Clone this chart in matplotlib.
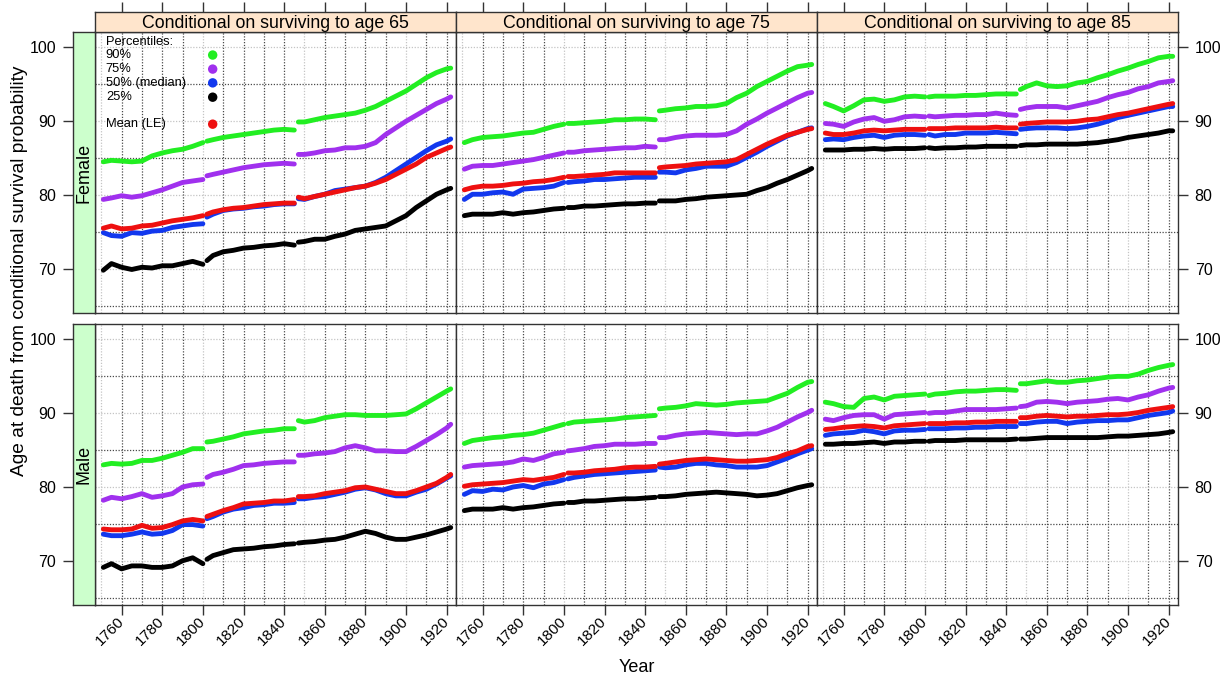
import matplotlib
matplotlib.use('Agg')
import matplotlib.pyplot as plt
import numpy as np

plt.rcParams['font.family'] = ['Liberation Sans', 'DejaVu Sans']

# ---------------- data ----------------
YEARS = [1751, 1755, 1760, 1765, 1770, 1775, 1780, 1785, 1790, 1795, 1800,
         1802, 1805, 1810, 1815, 1820, 1825, 1830, 1835, 1840, 1845,
         1847, 1850, 1855, 1860, 1865, 1870, 1875, 1880, 1885, 1890, 1895,
         1900, 1905, 1910, 1915, 1920, 1922]
BREAKS = [1801, 1846]

COND_AGES = [65, 75, 85]
SEXES = ['Female', 'Male']
LEGEND_LABELS = ['90%', '75%', '50% (median)', '25%']
MEAN_LABEL = 'Mean (LE)'
X_TICKS = [1760, 1780, 1800, 1820, 1840, 1860, 1880, 1900, 1920]
Y_TICKS = [70, 80, 90, 100]

# Female, conditional on surviving to 65
F65_P90 = [84.5, 84.7, 84.6, 84.5, 84.6, 85.3, 85.7, 86.0, 86.2, 86.6, 87.1,
           87.3, 87.5, 87.8, 88.0, 88.2, 88.4, 88.6, 88.8, 88.9, 88.8,
           89.9, 89.9, 90.2, 90.5, 90.7, 90.9, 91.1, 91.5, 92.0, 92.7, 93.4, 94.1, 95.0, 95.9, 96.6, 97.1, 97.2]
F65_P75 = [79.4, 79.6, 79.9, 79.7, 79.9, 80.3, 80.7, 81.2, 81.7, 81.9, 82.1,
           82.6, 82.8, 83.1, 83.4, 83.7, 83.9, 84.1, 84.2, 84.3, 84.2,
           85.5, 85.5, 85.7, 86.0, 86.1, 86.4, 86.4, 86.6, 87.1, 88.2, 89.1, 90.0, 90.8, 91.6, 92.4, 93.0, 93.3]
F65_P50 = [74.9, 74.5, 74.4, 74.9, 74.8, 75.1, 75.2, 75.6, 75.8, 76.0, 76.1,
           77.0, 77.4, 77.9, 78.1, 78.2, 78.4, 78.5, 78.7, 78.8, 78.8,
           79.5, 79.4, 79.8, 80.1, 80.6, 80.8, 81.0, 81.2, 81.7, 82.4, 83.3, 84.2, 85.1, 86.0, 86.8, 87.3, 87.6]
F65_MEAN = [75.5, 75.8, 75.4, 75.5, 75.8, 75.9, 76.2, 76.5, 76.7, 76.9, 77.2,
            77.4, 77.7, 78.0, 78.2, 78.3, 78.5, 78.7, 78.8, 78.9, 78.9,
            79.7, 79.5, 79.8, 80.1, 80.4, 80.7, 81.0, 81.2, 81.6, 82.1, 82.8, 83.5, 84.2, 85.1, 85.7, 86.3, 86.5]
F65_P25 = [69.8, 70.7, 70.2, 69.9, 70.2, 70.1, 70.4, 70.4, 70.7, 71.0, 70.6,
           71.1, 71.8, 72.3, 72.5, 72.8, 72.9, 73.1, 73.2, 73.4, 73.2,
           73.6, 73.7, 74.0, 74.0, 74.4, 74.7, 75.2, 75.4, 75.6, 75.8, 76.5, 77.2, 78.3, 79.2, 80.1, 80.7, 80.9]

# Male, conditional on surviving to 65
M65_P90 = [83.0, 83.2, 83.1, 83.2, 83.6, 83.6, 83.9, 84.3, 84.7, 85.2, 85.2,
           86.1, 86.2, 86.5, 86.8, 87.2, 87.4, 87.6, 87.7, 87.9, 87.9,
           89.0, 88.8, 89.0, 89.4, 89.6, 89.8, 89.8, 89.7, 89.7, 89.7, 89.8, 89.9, 90.6, 91.4, 92.2, 93.0, 93.3]
M65_P75 = [78.2, 78.6, 78.4, 78.7, 79.1, 78.6, 78.8, 79.1, 80.0, 80.3, 80.4,
           81.3, 81.7, 82.0, 82.4, 82.9, 83.0, 83.2, 83.3, 83.4, 83.4,
           84.3, 84.3, 84.5, 84.6, 84.8, 85.3, 85.6, 85.3, 84.9, 84.9, 84.8, 84.8, 85.5, 86.3, 87.1, 88.0, 88.5]
M65_P50 = [73.6, 73.4, 73.4, 73.6, 73.9, 73.6, 73.7, 74.1, 74.9, 74.9, 74.7,
           75.7, 76.0, 76.6, 77.0, 77.2, 77.5, 77.6, 77.8, 77.8, 77.9,
           78.4, 78.4, 78.6, 78.7, 79.0, 79.3, 79.7, 79.9, 79.6, 79.1, 78.8, 78.8, 79.3, 79.7, 80.4, 81.2, 81.5]
M65_MEAN = [74.3, 74.2, 74.2, 74.3, 74.8, 74.4, 74.5, 74.9, 75.4, 75.6, 75.4,
            76.0, 76.3, 76.8, 77.2, 77.7, 77.8, 77.9, 78.1, 78.1, 78.3,
            78.7, 78.7, 78.8, 79.1, 79.3, 79.5, 79.9, 80.0, 79.7, 79.4, 79.1, 79.1, 79.5, 80.0, 80.5, 81.3, 81.7]
M65_P25 = [69.1, 69.6, 68.9, 69.3, 69.3, 69.1, 69.1, 69.3, 70.0, 70.4, 69.6,
           70.2, 70.7, 71.1, 71.5, 71.6, 71.7, 71.9, 72.0, 72.2, 72.3,
           72.4, 72.5, 72.6, 72.8, 72.9, 73.2, 73.6, 74.0, 73.7, 73.2, 72.9, 72.9, 73.2, 73.5, 73.9, 74.3, 74.5]

# Female, conditional on surviving to 75
F75_P90 = [87.1, 87.5, 87.8, 87.9, 88.0, 88.2, 88.4, 88.5, 88.9, 89.3, 89.6,
           89.7, 89.7, 89.8, 89.9, 90.0, 90.2, 90.2, 90.3, 90.3, 90.2,
           91.4, 91.5, 91.7, 91.8, 92.0, 92.0, 92.1, 92.4, 93.2, 93.8, 94.7, 95.4, 96.1, 96.8, 97.4, 97.6, 97.7]
F75_P75 = [83.5, 83.9, 84.0, 84.0, 84.2, 84.4, 84.6, 84.8, 85.1, 85.4, 85.7,
           85.8, 85.8, 86.0, 86.1, 86.2, 86.3, 86.4, 86.4, 86.6, 86.5,
           87.5, 87.5, 87.8, 88.0, 88.1, 88.1, 88.1, 88.2, 88.7, 89.6, 90.3, 91.1, 91.8, 92.5, 93.2, 93.8, 93.9]
F75_P50 = [79.4, 80.1, 80.1, 80.3, 80.4, 80.1, 80.8, 80.9, 81.0, 81.2, 81.7,
           81.7, 81.8, 81.9, 82.1, 82.1, 82.2, 82.3, 82.4, 82.4, 82.4,
           83.1, 83.1, 83.0, 83.4, 83.6, 83.9, 83.9, 83.9, 84.4, 85.1, 85.8, 86.6, 87.3, 88.0, 88.5, 89.0, 89.1]
F75_MEAN = [80.7, 81.0, 81.2, 81.2, 81.3, 81.5, 81.6, 81.8, 81.9, 82.1, 82.4,
            82.5, 82.5, 82.6, 82.7, 82.8, 83.0, 83.0, 83.0, 83.0, 83.0,
            83.7, 83.8, 83.9, 84.0, 84.2, 84.3, 84.4, 84.5, 84.8, 85.5, 86.2, 86.9, 87.5, 88.1, 88.5, 88.9, 89.0]
F75_P25 = [77.2, 77.4, 77.4, 77.4, 77.6, 77.4, 77.6, 77.7, 77.9, 78.1, 78.2,
           78.3, 78.3, 78.5, 78.5, 78.6, 78.7, 78.8, 78.8, 78.9, 78.9,
           79.2, 79.2, 79.2, 79.4, 79.5, 79.7, 79.8, 79.9, 80.0, 80.1, 80.6, 81.0, 81.6, 82.1, 82.7, 83.3, 83.6]

# Male, conditional on surviving to 75
M75_P90 = [85.9, 86.3, 86.5, 86.7, 86.8, 87.0, 87.1, 87.3, 87.7, 88.1, 88.5,
           88.6, 88.8, 88.9, 89.0, 89.1, 89.2, 89.4, 89.5, 89.6, 89.7,
           90.6, 90.7, 90.8, 91.0, 91.3, 91.2, 91.1, 91.2, 91.4, 91.5, 91.6, 91.7, 92.2, 92.7, 93.5, 94.2, 94.3]
M75_P75 = [82.7, 82.9, 83.0, 83.1, 83.2, 83.4, 83.8, 83.6, 84.0, 84.5, 84.7,
           84.9, 85.0, 85.2, 85.5, 85.6, 85.8, 85.8, 85.8, 85.9, 85.9,
           86.7, 86.7, 87.0, 87.2, 87.3, 87.4, 87.3, 87.2, 87.1, 87.2, 87.2, 87.6, 88.1, 88.8, 89.5, 90.1, 90.4]
M75_P50 = [79.0, 79.5, 79.4, 79.7, 79.6, 80.0, 80.2, 79.9, 80.4, 80.6, 81.0,
           81.1, 81.3, 81.5, 81.7, 81.8, 81.9, 82.0, 82.1, 82.2, 82.3,
           82.7, 82.6, 82.7, 83.0, 83.2, 83.2, 83.0, 82.9, 82.7, 82.7, 82.7, 82.9, 83.4, 83.9, 84.5, 85.0, 85.2]
M75_MEAN = [80.1, 80.3, 80.4, 80.5, 80.6, 80.8, 81.0, 80.9, 81.1, 81.3, 81.7,
            81.9, 81.9, 82.0, 82.2, 82.3, 82.4, 82.6, 82.7, 82.7, 82.8,
            83.1, 83.2, 83.4, 83.6, 83.7, 83.8, 83.7, 83.6, 83.5, 83.5, 83.6, 83.7, 84.0, 84.5, 84.9, 85.5, 85.6]
M75_P25 = [76.8, 77.0, 77.0, 77.0, 77.2, 77.0, 77.2, 77.3, 77.5, 77.7, 77.8,
           77.9, 77.9, 78.1, 78.1, 78.2, 78.3, 78.4, 78.4, 78.5, 78.6,
           78.7, 78.7, 78.8, 79.0, 79.1, 79.2, 79.3, 79.2, 79.1, 79.0, 78.8, 78.9, 79.1, 79.5, 79.9, 80.2, 80.3]

# Female, conditional on surviving to 85
F85_P90 = [92.4, 92.0, 91.4, 92.1, 92.9, 93.0, 92.7, 92.9, 93.3, 93.4, 93.3,
           93.3, 93.4, 93.4, 93.4, 93.5, 93.5, 93.6, 93.7, 93.7, 93.7,
           94.3, 94.7, 95.2, 94.8, 94.7, 94.8, 95.2, 95.4, 95.9, 96.3, 96.8, 97.2, 97.7, 98.1, 98.6, 98.8, 98.8]
F85_P75 = [89.7, 89.6, 89.3, 89.9, 90.3, 90.5, 90.0, 90.2, 90.6, 90.7, 90.6,
           90.7, 90.6, 90.7, 90.8, 90.8, 90.9, 90.9, 91.1, 90.9, 90.8,
           91.6, 91.8, 92.0, 92.0, 92.0, 91.8, 92.1, 92.4, 92.7, 93.2, 93.6, 93.9, 94.4, 94.7, 95.2, 95.4, 95.5]
F85_P50 = [87.5, 87.6, 87.5, 87.8, 88.0, 88.1, 87.8, 88.1, 88.2, 88.2, 88.1,
           88.2, 88.0, 88.2, 88.2, 88.4, 88.4, 88.4, 88.5, 88.4, 88.3,
           88.9, 89.0, 89.1, 89.1, 89.1, 89.0, 89.1, 89.3, 89.6, 90.0, 90.5, 90.8, 91.1, 91.4, 91.7, 92.0, 92.0]
F85_MEAN = [88.4, 88.2, 88.2, 88.4, 88.7, 88.8, 88.7, 88.8, 88.9, 88.9, 88.9,
            89.0, 89.0, 89.0, 89.1, 89.1, 89.1, 89.1, 89.2, 89.1, 89.1,
            89.6, 89.7, 89.8, 89.9, 89.9, 89.9, 90.0, 90.2, 90.3, 90.6, 90.9, 91.1, 91.4, 91.7, 92.0, 92.3, 92.4]
F85_P25 = [86.1, 86.1, 86.1, 86.2, 86.2, 86.3, 86.2, 86.3, 86.3, 86.3, 86.4,
           86.4, 86.3, 86.4, 86.4, 86.5, 86.5, 86.6, 86.6, 86.6, 86.6,
           86.7, 86.8, 86.8, 86.9, 86.9, 86.9, 86.9, 87.0, 87.1, 87.3, 87.5, 87.8, 88.0, 88.2, 88.4, 88.7, 88.7]

# Male, conditional on surviving to 85
M85_P90 = [91.5, 91.3, 90.9, 90.8, 92.0, 92.2, 91.8, 92.3, 92.4, 92.5, 92.6,
           92.4, 92.6, 92.7, 92.9, 93.0, 93.0, 93.1, 93.2, 93.2, 93.1,
           94.0, 94.0, 94.2, 94.4, 94.2, 94.2, 94.4, 94.5, 94.7, 94.9, 95.0, 95.0, 95.3, 95.8, 96.2, 96.5, 96.6]
M85_P75 = [89.2, 89.0, 89.4, 89.7, 89.8, 89.8, 89.2, 89.8, 89.9, 90.0, 90.1,
           90.0, 90.1, 90.1, 90.3, 90.5, 90.5, 90.5, 90.5, 90.6, 90.7,
           90.9, 91.0, 91.5, 91.6, 91.5, 91.3, 91.5, 91.6, 91.7, 91.9, 92.0, 91.8, 92.2, 92.5, 93.0, 93.4, 93.5]
M85_P50 = [87.0, 87.2, 87.3, 87.4, 87.7, 87.5, 87.2, 87.6, 87.7, 87.7, 87.8,
           87.9, 87.9, 87.9, 88.0, 88.0, 88.1, 88.1, 88.2, 88.2, 88.2,
           88.6, 88.6, 88.8, 88.9, 88.9, 88.6, 88.8, 88.9, 89.0, 89.0, 89.1, 89.1, 89.4, 89.7, 89.9, 90.1, 90.3]
M85_MEAN = [87.8, 87.9, 88.1, 88.2, 88.3, 88.2, 88.0, 88.3, 88.4, 88.5, 88.6,
            88.6, 88.6, 88.6, 88.7, 88.7, 88.8, 88.8, 88.9, 88.9, 88.9,
            89.4, 89.4, 89.6, 89.7, 89.6, 89.5, 89.6, 89.6, 89.7, 89.8, 89.8, 89.9, 90.1, 90.4, 90.6, 90.8, 90.9]
M85_P25 = [85.8, 85.8, 85.9, 85.9, 86.0, 86.1, 85.9, 86.1, 86.1, 86.2, 86.2,
           86.2, 86.3, 86.3, 86.3, 86.4, 86.4, 86.4, 86.4, 86.4, 86.5,
           86.5, 86.5, 86.6, 86.7, 86.7, 86.7, 86.7, 86.7, 86.7, 86.8, 86.9, 86.9, 87.0, 87.1, 87.2, 87.4, 87.5]

PANELS = {
    ('Female', 65): [F65_P90, F65_P75, F65_P50, F65_P25, F65_MEAN],
    ('Female', 75): [F75_P90, F75_P75, F75_P50, F75_P25, F75_MEAN],
    ('Female', 85): [F85_P90, F85_P75, F85_P50, F85_P25, F85_MEAN],
    ('Male', 65): [M65_P90, M65_P75, M65_P50, M65_P25, M65_MEAN],
    ('Male', 75): [M75_P90, M75_P75, M75_P50, M75_P25, M75_MEAN],
    ('Male', 85): [M85_P90, M85_P75, M85_P50, M85_P25, M85_MEAN],
}

# ---------------- style ----------------
COLORS = ['#22ee22', '#a030ee', '#1238ee', '#000000', '#ee1010']
STRIP_TOP = '#ffe5cc'
STRIP_LEFT = '#ccffcc'
FRAME = '#333333'
XLIM = (1746.9, 1924.6)
YLIM = (64.0, 102.1)

W, H = 1231, 678
fig = plt.figure(figsize=(W / 100, H / 100), dpi=100)


def rect(x0, y0, x1, y1):
    return [x0 / W, 1 - y1 / H, (x1 - x0) / W, (y1 - y0) / H]


COL_X = [95, 456, 817]
PW = 361
ROW_Y = {'Female': (32, 313), 'Male': (324, 605)}


def style_frame(ax):
    for s in ax.spines.values():
        s.set_color(FRAME)
        s.set_linewidth(1.0)


def draw_grid(ax):
    for x in np.arange(1750, 1921, 10):
        light = (x % 50 == 0)
        ax.axvline(x, color='#c4c4c4' if light else '#4a4a4a', lw=0.9,
                   ls=(0, (1, 1.3)), zorder=1)
    for y in np.arange(65, 101, 5):
        light = (y % 10 == 0)
        ax.axhline(y, color='#c4c4c4' if light else '#4a4a4a', lw=0.9,
                   ls=(0, (1, 1.3)), zorder=1)


years = np.array(YEARS)
edges = [YEARS[0] - 1] + BREAKS + [YEARS[-1] + 1]

axes = {}
for sex in SEXES:
    y0, y1 = ROW_Y[sex]
    for ci, age in enumerate(COND_AGES):
        x0 = COL_X[ci]
        ax = fig.add_axes(rect(x0, y0, x0 + PW, y1))
        ax.set_xlim(*XLIM)
        ax.set_ylim(*YLIM)
        style_frame(ax)
        draw_grid(ax)
        series = PANELS[(sex, age)]
        for vals, col in zip(series, COLORS):
            v = np.array(vals)
            for a, b in zip(edges[:-1], edges[1:]):
                m = (years > a) & (years < b)
                ax.plot(years[m], v[m], color=col, lw=3.5,
                        solid_capstyle='round', solid_joinstyle='round', zorder=3)
        ax.tick_params(axis='both', which='both', length=0)
        ax.set_yticks([])
        if sex == 'Male':
            ax.set_xticks(X_TICKS)
            ax.tick_params(axis='x', direction='out', length=7, width=1,
                           color=FRAME, labelsize=11, pad=3)
            for lab in ax.get_xticklabels():
                lab.set_rotation(45)
                lab.set_ha('right')
                lab.set_va('center')
                lab.set_rotation_mode('anchor')
        else:
            ax.set_xticks([])
        if ci == 2:
            ax.yaxis.tick_right()
            ax.set_yticks(Y_TICKS)
            ax.tick_params(axis='y', direction='out', length=7, width=1,
                           color=FRAME, labelsize=11.5, pad=5)
        axes[(sex, age)] = ax

    # left strip
    sax = fig.add_axes(rect(73, y0, 95, y1))
    sax.set_facecolor(STRIP_LEFT)
    sax.set_ylim(*YLIM)
    sax.set_xticks([])
    sax.set_yticks(Y_TICKS)
    sax.tick_params(axis='y', direction='out', length=7, width=1,
                    color=FRAME, labelsize=11.5, pad=5)
    style_frame(sax)
    sax.text(0.5, 0.5, sex, rotation=90, ha='center', va='center',
             fontsize=13, transform=sax.transAxes)

# top strips
for ci, age in enumerate(COND_AGES):
    x0 = COL_X[ci]
    tax = fig.add_axes(rect(x0, 12, x0 + PW, 32))
    tax.set_facecolor(STRIP_TOP)
    tax.set_xlim(*XLIM)
    tax.set_yticks([])
    tax.xaxis.tick_top()
    tax.set_xticks(X_TICKS)
    tax.tick_params(axis='x', direction='out', length=7, width=1,
                    color=FRAME, labeltop=False, labelbottom=False)
    style_frame(tax)
    tax.text(0.5, 0.45, f'Conditional on surviving to age {age}',
             ha='center', va='center', fontsize=12.8, transform=tax.transAxes)

# legend (in first panel)
lax = axes[('Female', 65)]
LFS = 9.3
lax.text(0.030, 0.965, 'Percentiles:', transform=lax.transAxes,
         ha='left', va='center', fontsize=LFS, zorder=5)
leg_y = [0.918, 0.868, 0.819, 0.768]
for lab, yy, col in zip(LEGEND_LABELS, leg_y, COLORS[:4]):
    lax.text(0.030, yy, lab, transform=lax.transAxes, ha='left', va='center',
             fontsize=LFS, zorder=5)
    lax.scatter([0.326], [yy], s=46, color=col, transform=lax.transAxes,
                zorder=5, clip_on=False, edgecolors='none')
lax.text(0.030, 0.672, MEAN_LABEL, transform=lax.transAxes, ha='left',
         va='center', fontsize=LFS, zorder=5)
lax.scatter([0.326], [0.672], s=46, color=COLORS[4], transform=lax.transAxes,
            zorder=5, clip_on=False, edgecolors='none')

# axis titles
fig.text(20 / W, 1 - 271 / H, 'Age at death from conditional survival probability',
         rotation=90, ha='center', va='center', fontsize=13.8)
fig.text(637 / W, 1 - 667 / H, 'Year', ha='center', va='center', fontsize=13)

fig.savefig('out.png', dpi=100)
